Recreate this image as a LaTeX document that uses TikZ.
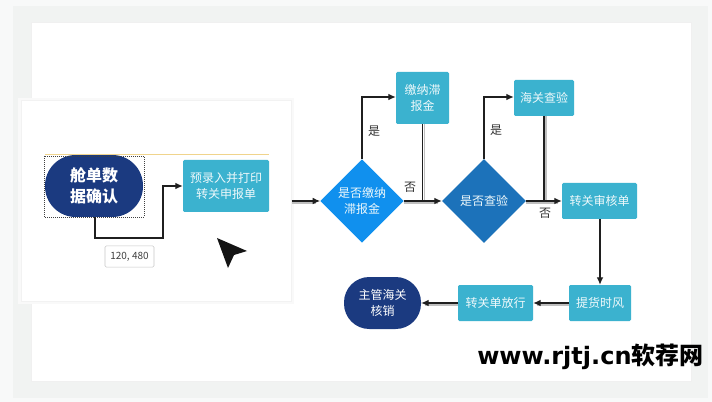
\documentclass[tikz,border=0pt]{standalone}
\usepackage{fontspec}
\setmainfont{Noto Sans CJK SC}
\newfontfamily\wmlatin{DejaVu Sans}
\usetikzlibrary{arrows.meta,shapes.geometric,calc}
\definecolor{pagebg}{HTML}{F8F9F9}
\definecolor{bandbg}{HTML}{F1F3F2}
\definecolor{navy}{HTML}{1B3A80}
\definecolor{teal}{HTML}{3BB2CF}
\definecolor{dia1}{HTML}{1090EE}
\definecolor{dia2}{HTML}{1C72BA}
\definecolor{guide}{HTML}{F0D48C}
\tikzset{
  x=0.75pt,y=-0.75pt,
  pill/.style={fill=navy,rounded corners=23pt,inner sep=0pt,text=white,align=center,font=\fontsize{12}{15.5}\selectfont\bfseries},
  tbox/.style={fill=teal,rounded corners=1pt,inner sep=0pt,text=white!92!teal,align=center,font=\fontsize{9}{12.5}\selectfont},
  dia/.style={diamond,aspect=1,inner sep=0pt,text=white!92!teal,align=center,font=\fontsize{9}{12.5}\selectfont},
  lab/.style={inner sep=0pt,text=black!80,font=\fontsize{9}{11}\selectfont},
  conn/.style={draw=black!88,line width=.85pt,-{Latex[length=5.5pt,width=5pt]}},
  plainconn/.style={draw=black!88,line width=.85pt},
  shade/.style={draw=black!25,line width=.8pt}
}
\begin{document}
\begin{tikzpicture}
\useasboundingbox (0,0) rectangle (712,402);
\fill[pagebg] (0,0) rectangle (712,402);
\fill[bandbg] (13,6) rectangle (708,398);
% main panel
\node[fill=white,draw=black!6,line width=.4pt,inner sep=0pt,minimum width=495pt,minimum height=269.25pt,anchor=north west] (main) at (31,22) {};
% left panel
\fill[black!2.5] (18,98) rectangle (294,304);
\node[fill=white,draw=black!5,line width=.4pt,inner sep=0pt,minimum width=202.5pt,minimum height=150.75pt,anchor=north west] (left) at (21,100) {};
% nodes
\node[pill,minimum width=73.5pt,minimum height=46.5pt] (start) at (94,186) {舱单数\\据确认};
\coordinate (sela) at (44,156);
\coordinate (selb) at (144,217);
\draw[black!75,densely dotted,line width=.5pt] (sela) rectangle (selb);
\coordinate (oa) at (45,154);
\coordinate (ob) at (269,154);
\draw[guide,line width=.6pt] (oa) -- (ob);
\node[tbox,minimum width=64.5pt,minimum height=39pt] (entry) at (226,186) {预录入并打印\\转关申报单};
\node[dia,fill=dia1,minimum size=62.5pt] (d1) at (362,201) {是否缴纳\\滞报金};
\node[dia,fill=dia2,minimum size=63pt] (d2) at (484,201) {是否查验};
\node[tbox,minimum width=39.75pt,minimum height=39pt] (late) at (422.5,98) {缴纳滞\\报金};
\node[tbox,minimum width=45pt,minimum height=27pt] (insp) at (544,98) {海关查验};
\node[tbox,minimum width=56.25pt,minimum height=27pt] (review) at (599.5,201) {转关审核单};
\node[tbox,minimum width=46.5pt,minimum height=27pt] (pick) at (600,303) {提货时风};
\node[tbox,minimum width=56.25pt,minimum height=27pt] (release) at (495.5,303) {转关单放行};
\node[pill,minimum width=57.75pt,minimum height=39pt,rounded corners=19pt,font=\fontsize{9}{12.5}\selectfont] (end) at (382.5,303) {主管海关\\核销};
% connectors
\coordinate (c1) at (95,238);
\coordinate (c2) at (163,238);
\coordinate (c3) at (163,186);
\draw[conn] (start.south -| c1) -- (c1) -- (c2) -- (c3) -- (entry.west);
\draw[shade] ($(left.east |- d1.west)+(0,2)$) -- ($(d1.west)+(-4,2)$);
\draw[conn] (left.east |- d1.west) -- (d1.west);
\coordinate (u1) at (362,97);
\draw[conn] (d1.north) -- (u1) -- (late.west |- u1);
\draw[shade] ($(late.south)+(2,0)$) -- ($(late.south |- d1.east)+(2,0)$);
\draw[plainconn] (late.south) -- (late.south |- d1.east);
\draw[shade] ($(d1.east)+(0,2)$) -- ($(d2.west)+(-4,2)$);
\draw[conn] (d1.east) -- (d2.west);
\coordinate (u2) at (484,97);
\draw[conn] (d2.north) -- (u2) -- (insp.west |- u2);
\draw[shade] ($(insp.south)+(2,0)$) -- ($(insp.south |- d2.east)+(2,0)$);
\draw[plainconn] (insp.south) -- (insp.south |- d2.east);
\draw[shade] ($(d2.east)+(0,2)$) -- ($(review.west)+(-4,2)$);
\draw[conn] (d2.east) -- (review.west);
\draw[conn] (review.south -| pick.north) -- (pick.north);
\draw[shade] ($(pick.west)+(0,2)$) -- ($(release.east)+(4,2)$);
\draw[conn] (pick.west) -- (release.east);
\draw[shade] ($(release.west)+(0,2)$) -- ($(end.east)+(4,2)$);
\draw[conn] (release.west) -- (end.east);
% labels
\node[lab] (y1) at (374,131) {是};
\node[lab] (n1) at (410,187) {否};
\node[lab] (y2) at (496,130) {是};
\node[lab] (n2) at (545,213) {否};
\node[fill=white,draw=black!22,rounded corners=1pt,line width=.4pt,minimum width=36.75pt,minimum height=16pt,inner sep=0pt,text=black!75,font=\fontsize{7.5}{9}\selectfont] (tip) at (129.5,256.5) {120, 480};
% cursor
\fill[black!92] (217,238) -- (247,251) -- (234,255) -- (228,268) -- cycle;
% watermark
\node[anchor=base west,inner sep=0pt,text=black,font=\fontsize{18}{20}\selectfont\bfseries] (wm) at (477,364) {{\wmlatin www.rjtj.cn}软荐网};
\end{tikzpicture}
\end{document}
